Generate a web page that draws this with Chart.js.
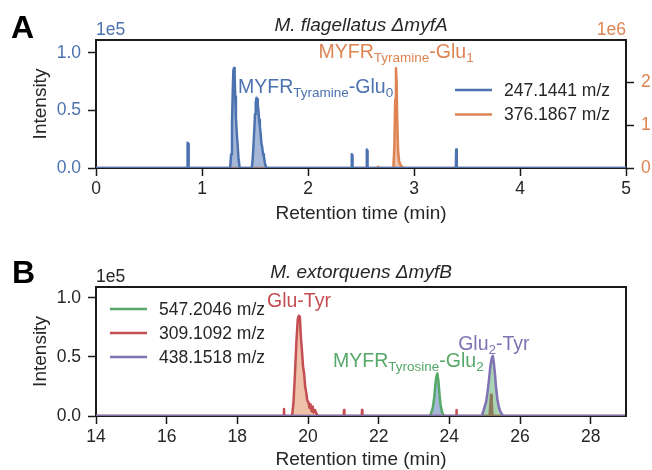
<!DOCTYPE html>
<html>
<head>
<meta charset="utf-8">
<script src="https://cdn.jsdelivr.net/npm/chart.js@4.4.1/dist/chart.umd.min.js"></script>
<style>
  html, body { margin: 0; padding: 0; background: #fff; }
  #wrap { position: relative; width: 652px; height: 470px; }
  canvas { position: absolute; left: 0; }
</style>
</head>
<body>
<div id="wrap">
  <canvas id="chartA" width="652" height="235" style="top:0"></canvas>
  <canvas id="chartB" width="652" height="235" style="top:235px"></canvas>
</div>
<script>
// ---- panel A: M. flagellatus (247 m/z in 1e5, 376 m/z in 1e6) ----
var timeA247 = [0, 0.860, 0.864, 0.868, 0.872, 0.876,
  1.265, 1.275, 1.283, 1.290, 1.296, 1.302, 1.308, 1.314, 1.320, 1.328, 1.336, 1.344, 1.355,
  1.470, 1.478, 1.486, 1.493, 1.500, 1.507, 1.514, 1.520, 1.526, 1.532, 1.539, 1.546, 1.553, 1.560, 1.568, 1.576, 1.584, 1.592, 1.600, 1.610,
  2.410, 2.413, 2.417, 2.420, 2.552, 2.555, 2.559, 2.562, 3.395, 3.398, 3.402, 3.405, 5];
var intA247 = [0, 0, 0.22, 0.21, 0.02, 0,
  0, 0.12, 0.38, 0.66, 0.85, 0.87, 0.80, 0.62, 0.44, 0.30, 0.20, 0.09, 0,
  0, 0.08, 0.20, 0.33, 0.47, 0.57, 0.61, 0.60, 0.55, 0.50, 0.42, 0.36, 0.30, 0.22, 0.18, 0.12, 0.10, 0.05, 0.02, 0,
  0, 0.12, 0.11, 0, 0, 0.16, 0.15, 0, 0, 0.16, 0.15, 0, 0];
var timeA376 = [0, 2.655, 2.662, 2.670, 2.805, 2.815, 2.823, 2.830, 2.836, 2.842, 2.850, 2.860, 2.875, 2.890, 2.905, 5];
var intA376 = [0, 0, 0.03, 0, 0, 0.5, 1.6, 2.32, 2.0, 1.1, 0.4, 0.15, 0.06, 0.02, 0, 0];

// ---- panel B: M. extorquens (all in 1e5) ----
var timeB547 = [14, 23.45, 23.49, 23.53, 23.57, 23.60, 23.63, 23.66, 23.69, 23.72, 23.75, 23.78, 23.81, 23.85, 29];
var intB547 = [0, 0, 0.03, 0.07, 0.15, 0.25, 0.33, 0.36, 0.30, 0.19, 0.10, 0.05, 0.02, 0, 0];
var timeB309 = [14, 19.31, 19.32, 19.33, 19.55, 19.59, 19.63, 19.67, 19.71, 19.74, 19.77, 19.80, 19.83, 19.86,
  19.89, 19.92, 19.95, 19.98, 20.01, 20.04, 20.07, 20.10, 20.13, 20.16, 20.20, 20.24, 20.28,
  21.01, 21.02, 21.03, 21.52, 21.53, 21.54, 24.19, 24.20, 24.21, 25.14, 25.16, 25.18, 25.20, 25.22, 29];
var intB309 = [0, 0, 0.06, 0, 0, 0.12, 0.35, 0.62, 0.82, 0.85, 0.84, 0.66, 0.55, 0.42,
  0.36, 0.25, 0.20, 0.13, 0.12, 0.07, 0.10, 0.04, 0.08, 0.03, 0.05, 0.02, 0,
  0, 0.05, 0, 0, 0.05, 0, 0, 0.05, 0, 0, 0.10, 0.18, 0.12, 0, 0];
var timeB438 = [14, 24.92, 24.96, 25.00, 25.04, 25.08, 25.12, 25.16, 25.20, 25.23, 25.26, 25.29, 25.32, 25.36, 25.40, 25.44, 25.48, 25.52, 29];
var intB438 = [0, 0, 0.04, 0.08, 0.12, 0.20, 0.30, 0.42, 0.49, 0.51, 0.45, 0.36, 0.25, 0.14, 0.08, 0.04, 0.02, 0, 0];

var ticksA = [0, 1, 2, 3, 4, 5];
var ticksB = [14, 16, 18, 20, 22, 24, 26, 28];

var fam = '"Liberation Sans", Arial, sans-serif';
var ink = '#262626';
var frame = '#1a1a1a';
var cBlue = '#4c72b0', cOrange = '#dd8452', cGreen = '#55a868', cRed = '#c44e52', cPurple = '#8172b3';

Chart.defaults.font.family = fam;
Chart.defaults.font.size = 17.5;
Chart.defaults.color = ink;
Chart.defaults.animation = false;

function pts(ts, vs) {
  return ts.map(function (t, i) { return { x: t, y: vs[i] }; });
}
function soft(hex) {
  var n = parseInt(hex.slice(1), 16);
  return 'rgba(' + (n >> 16) + ',' + ((n >> 8) & 255) + ',' + (n & 255) + ',0.5)';
}
function trace(label, ts, vs, line, fillCol, axis, order) {
  return {
    label: label, data: pts(ts, vs), yAxisID: axis || 'y', order: order || 0,
    borderColor: line, backgroundColor: soft(fillCol), fill: 'origin',
    borderWidth: 2.5, borderJoinStyle: 'round', borderCapStyle: 'round',
    pointRadius: 0, tension: 0
  };
}

// text with subscripts: parts = [[text, isSub], ...]
function rich(ctx, x, y, parts, color) {
  var cx = x;
  ctx.fillStyle = color;
  ctx.textBaseline = 'alphabetic';
  ctx.textAlign = 'left';
  parts.forEach(function (p) {
    ctx.font = (p[1] ? '13.5px ' : '19.5px ') + fam;
    ctx.fillText(p[0], cx, p[1] ? y + 4 : y);
    cx += ctx.measureText(p[0]).width;
  });
}

var extras = {
  id: 'extras',
  afterDraw: function (chart, args, o) {
    var ctx = chart.ctx, a = chart.chartArea;
    ctx.save();
    // top (and right) frame
    ctx.strokeStyle = frame;
    ctx.lineWidth = 2;
    ctx.beginPath();
    ctx.moveTo(a.left - 1, a.top);
    ctx.lineTo(a.right + 1, a.top);
    if (o.rightFrame) { ctx.moveTo(a.right, a.top); ctx.lineTo(a.right, a.bottom); }
    ctx.stroke();
    // panel letter
    ctx.fillStyle = '#000';
    ctx.font = 'bold 32px ' + fam;
    ctx.textAlign = 'left';
    ctx.textBaseline = 'alphabetic';
    ctx.fillText(o.letter[0], o.letter[1], o.letter[2]);
    // offset texts (1e5 / 1e6)
    o.sci.forEach(function (s) {
      ctx.font = '17.5px ' + fam;
      ctx.fillStyle = s.color;
      ctx.textAlign = s.align;
      ctx.fillText(s.text, s.x, s.y);
    });
    // annotations, anchored in data coordinates
    o.notes.forEach(function (n) {
      var sx = chart.scales.x.getPixelForValue(n.x);
      var sy = chart.scales[n.axis].getPixelForValue(n.y);
      rich(ctx, sx, sy, n.parts, n.color);
    });
    // legend
    var L = o.legend;
    chart.data.datasets.forEach(function (d, i) {
      var y = L.y + i * L.dy;
      ctx.strokeStyle = d.borderColor;
      ctx.lineWidth = 2.5;
      ctx.beginPath();
      ctx.moveTo(L.x, y);
      ctx.lineTo(L.x + 37, y);
      ctx.stroke();
      ctx.fillStyle = ink;
      ctx.font = '17.5px ' + fam;
      ctx.textAlign = 'left';
      ctx.textBaseline = 'middle';
      ctx.fillText(d.label, L.x + 49, y + 1);
    });
    ctx.restore();
  }
};

function xAxis(min, max, tickVals, height, titlePad) {
  return {
    type: 'linear', min: min, max: max,
    afterBuildTicks: function (s) { s.ticks = tickVals.map(function (v) { return { value: v }; }); },
    afterFit: function (s) { s.height = height; },
    ticks: { padding: 3, color: ink, autoSkip: false, maxRotation: 0, callback: function (v) { return String(v); } },
    grid: { display: true, drawOnChartArea: false, tickLength: 8, tickWidth: 1.5, tickColor: frame },
    border: { display: true, color: frame, width: 2 },
    title: { display: true, text: 'Retention time (min)', color: ink, font: { size: 19, lineHeight: 1 }, padding: { top: 0, bottom: titlePad } }
  };
}
function yAxis(max, step, digits, color, pos, width, withTitle) {
  return {
    type: 'linear', position: pos, min: 0, max: max,
    afterFit: function (s) { s.width = width; },
    ticks: { stepSize: step, includeBounds: false, padding: 7, color: color,
      callback: function (v) { return v.toFixed(digits); } },
    grid: { display: true, drawOnChartArea: false, tickLength: 8, tickWidth: 1.5, tickColor: frame },
    border: { display: true, color: frame, width: 2 },
    title: { display: withTitle, text: 'Intensity', color: ink, font: { size: 19, lineHeight: 1 }, padding: { top: 31, bottom: 0 } }
  };
}

new Chart(document.getElementById('chartA'), {
  type: 'line',
  data: {
    datasets: [
      trace('247.1441 m/z', timeA247, intA247, cBlue, cBlue, 'y'),
      trace('376.1867 m/z', timeA376, intA376, cOrange, cOrange, 'y2')
    ]
  },
  options: {
    responsive: false,
    layout: { padding: 0 },
    scales: {
      x: xAxis(0, 5, ticksA, 67, 11.5),
      y: yAxis(1.113, 0.5, 1, cBlue, 'left', 96, true),
      y2: yAxis(2.98, 1, 0, cOrange, 'right', 26, false)
    },
    plugins: {
      legend: { display: false },
      tooltip: { enabled: false },
      title: { display: true, fullSize: false, text: 'M. flagellatus \u0394myfA', color: ink,
        font: { size: 19, style: 'italic', weight: 'normal', lineHeight: 1 }, padding: { top: 16, bottom: 5 } },
      extras: {
        letter: ['A', 11, 38],
        sci: [{ text: '1e5', x: 96, y: 35, color: cBlue, align: 'left' },
              { text: '1e6', x: 626, y: 35, color: cOrange, align: 'right' }],
        notes: [
          { x: 1.34, y: 0.65, axis: 'y', color: cBlue, parts: [['MYFR', 0], ['Tyramine', 1], ['-Glu', 0], ['0', 1]] },
          { x: 2.10, y: 2.56, axis: 'y2', color: cOrange, parts: [['MYFR', 0], ['Tyramine', 1], ['-Glu', 0], ['1', 1]] }
        ],
        legend: { x: 455, y: 90, dy: 24.5 }
      }
    }
  },
  plugins: [extras]
});

new Chart(document.getElementById('chartB'), {
  type: 'line',
  data: {
    datasets: [
      trace('547.2046 m/z', timeB547, intB547, cGreen, cBlue, 'y', 3),
      trace('309.1092 m/z', timeB309, intB309, cRed, cOrange, 'y', 2),
      trace('438.1518 m/z', timeB438, intB438, cPurple, cGreen, 'y', 1)
    ]
  },
  options: {
    responsive: false,
    layout: { padding: { left: 0, right: 26, top: 0, bottom: 0 } },
    scales: {
      x: xAxis(14, 29, ticksB, 54, 0.5),
      y: yAxis(1.093, 0.5, 1, ink, 'left', 96, true)
    },
    plugins: {
      legend: { display: false },
      tooltip: { enabled: false },
      title: { display: true, fullSize: false, text: 'M. extorquens \u0394myfB', color: ink,
        font: { size: 19, style: 'italic', weight: 'normal', lineHeight: 1 }, padding: { top: 28, bottom: 5 } },
      extras: {
        rightFrame: true,
        letter: ['B', 12, 48],
        sci: [{ text: '1e5', x: 96, y: 47, color: ink, align: 'left' }],
        notes: [
          { x: 18.84, y: 0.92, axis: 'y', color: cRed, parts: [['Glu-Tyr', 0]] },
          { x: 20.71, y: 0.415, axis: 'y', color: cGreen, parts: [['MYFR', 0], ['Tyrosine', 1], ['-Glu', 0], ['2', 1]] },
          { x: 24.25, y: 0.56, axis: 'y', color: cPurple, parts: [['Glu', 0], ['2', 1], ['-Tyr', 0]] }
        ],
        legend: { x: 110, y: 74, dy: 24 }
      }
    }
  },
  plugins: [extras]
});
</script>
</body>
</html>
